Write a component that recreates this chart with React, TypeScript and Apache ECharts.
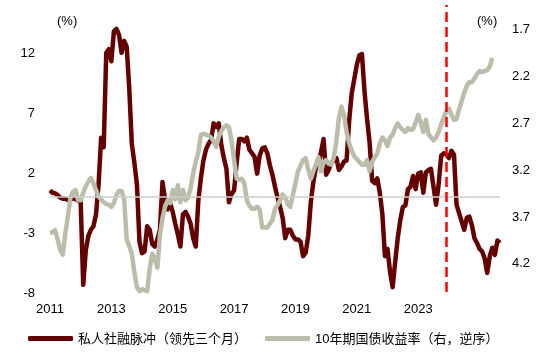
import React, { useEffect, useRef } from "react";
import * as echarts from "echarts";

// Monthly categories Jan 2011 .. Sep 2025
const months: string[] = [];
for (let y = 2011; y <= 2025; y++) {
  for (let m = 1; m <= 12; m++) {
    if (y === 2025 && m > 9) break;
    months.push(`${y}-${m < 10 ? "0" + m : m}`);
  }
}

const creditImpulseName = "私人社融脉冲（领先三个月）";
const bondYieldName = "10年期国债收益率（右，逆序）";

// Private credit impulse, leading 3 months (left axis, %)
const creditImpulse = [
  0.5, 0.3, 0.25, 0.1, -0.1, -0.2, -0.2, -0.3, -0.3, -0.15,
  -0.25, -0.35, -0.5, -7.4, -4.5, -3.3, -2.8, -2.5, -1.5, 1.0,
  4.9, 4.1, 12.0, 12.3, 11.3, 13.8, 14.0, 13.5, 12.0, 13.0,
  12.5, 9.0, 4.4, 2.8, 1.0, -3.8, -4.75, -4.6, -2.5, -2.8,
  -4.0, -4.2, -3.6, -2.8, 1.2, -0.3, -1.1, -0.6, -1.3, -2.3,
  -3.2, -4.2, -1.5, -1.3, -1.7, -2.3, -3.5, -4.2, -0.4, 1.5,
  3.0, 3.9, 4.4, 4.7, 6.1, 5.8, 6.1, 4.3, 3.2, 2.3,
  -0.5, 0.2, 0.5, 2.8, 4.8, 4.8, 4.6, 4.9, 3.9, 3.6,
  3.3, 1.9, 3.4, 4.0, 4.1, 3.6, 2.6, 1.8, 0.8, -0.1,
  -0.9, -1.8, -3.5, -2.8, -2.8, -3.3, -3.6, -3.6, -3.8, -5.0,
  -4.7, -3.3, -0.5, 1.2, 2.4, 2.75, 3.7, 4.8, 1.8, 2.2,
  2.8, 3.0, 3.2, 2.2, 2.5, 2.9, 3.0, 6.3, 8.6, 9.8,
  11.0, 11.8, 11.9, 8.8, 6.5, 4.5, 1.3, 1.1, 1.5, 0.3,
  -1.5, -5.0, -4.4, -6.3, -7.6, -5.5, -3.5, -2.0, -0.9, -0.75,
  0.6, 0.8, 1.7, 0.6, 1.9, 2.0, 0.3, 2.0, 2.2, 2.3,
  0.8, -0.7, 1.0, 3.4, 3.6, 3.5, 3.2, 3.8, 3.5, -0.7,
  -1.4, -2.1, -2.8, -1.8, -1.7, -2.4, -3.5, -3.9, -4.4, -4.6,
  -5.2, -6.4, -5.0, -4.3, -4.9, -3.7, -3.9,
];

// 10Y government bond yield (right axis, inverted, %)
const bondYield = [
  3.88, 3.87, 3.85, 3.95, 4.06, 4.11, 3.88, 3.7, 3.5, 3.44,
  3.42, 3.53, 3.53, 3.45, 3.38, 3.33, 3.29, 3.35, 3.42, 3.49,
  3.52, 3.55, 3.57, 3.58, 3.6, 3.56, 3.47, 3.43, 3.43, 3.52,
  3.95, 4.02, 4.1, 4.3, 4.46, 4.5, 4.48, 4.49, 4.5, 4.26,
  4.1, 4.15, 4.25, 3.9, 3.72, 3.6, 3.53, 3.56, 3.42, 3.52,
  3.37, 3.55, 3.42, 3.53, 3.5, 3.4, 3.24, 3.12, 3.02, 2.83,
  2.82, 2.83, 2.84, 2.86, 2.9, 2.96, 2.85, 2.79, 2.75, 2.73,
  2.75, 2.9, 3.1, 3.3, 3.31, 3.3, 3.35, 3.53, 3.59, 3.62,
  3.62, 3.6, 3.63, 3.82, 3.82, 3.82, 3.78, 3.74, 3.62, 3.58,
  3.53, 3.47, 3.5, 3.57, 3.6, 3.47, 3.35, 3.22, 3.16, 3.1,
  3.08, 3.2, 3.3, 3.22, 3.15, 3.07, 3.22, 3.13, 3.1, 3.14,
  3.15, 3.07, 2.9, 2.65, 2.53, 2.62, 2.8, 2.92, 3.0, 3.06,
  3.09, 3.12, 3.15, 3.15, 3.1, 3.22, 3.12, 3.07, 3.03, 2.92,
  2.86, 2.89, 2.95, 2.86, 2.83, 2.76, 2.71, 2.75, 2.78, 2.8,
  2.76, 2.78, 2.77, 2.7, 2.62, 2.7, 2.8, 2.67, 2.82, 2.86,
  2.89, 2.86, 2.8, 2.72, 2.64, 2.58, 2.55, 2.62, 2.67, 2.66,
  2.56, 2.47, 2.38, 2.31, 2.27, 2.27, 2.23, 2.18, 2.15, 2.16,
  2.15, 2.14, 2.1, 2.01,
];

const leftTicks = [-8, -3, 2, 7, 12];
const rightTicks = [1.7, 2.2, 2.7, 3.2, 3.7, 4.2];
const xLabelYears = ["2011", "2013", "2015", "2017", "2019", "2021", "2023"];
const markMonth = "2023-12";

const FONT = "'Liberation Sans', Arial, 'Noto Sans CJK SC', sans-serif";
const RED = "#650000";
const GRAY = "#bababa";
const GRAY_LINE = "#bcbcab";

export default function App() {
  const ref = useRef<HTMLDivElement>(null);
  useEffect(() => {
    if (!ref.current) return;
    const chart = echarts.init(ref.current, undefined, { renderer: "svg" });
    const option: any = {
      animation: false,
      grid: { left: 50, right: 50, top: 5, bottom: 65, containLabel: false },
      legend: {
        data: [creditImpulseName, bondYieldName],
        left: 28,
        top: 332,
        padding: 0,
        icon: "roundRect",
        itemWidth: 45,
        itemHeight: 5,
        itemGap: 18,
        textStyle: { fontSize: 13, color: "#000", fontFamily: FONT },
      },
      graphic: [
        { type: "text", left: 57, top: 14, style: { text: "(%)", fontSize: 13, fill: "#000", fontFamily: FONT } },
        { type: "text", left: 477, top: 14, style: { text: "(%)", fontSize: 13, fill: "#000", fontFamily: FONT } },
      ],
      xAxis: {
        type: "category",
        data: months,
        boundaryGap: false,
        axisLine: { show: false },
        axisTick: { show: false },
        splitLine: { show: false },
        axisLabel: {
          interval: (_i: number, v: string) => v.endsWith("-01") && xLabelYears.includes(v.slice(0, 4)),
          formatter: (v: string) => v.slice(0, 4),
          margin: 10,
          fontSize: 13,
          color: "#000",
          fontFamily: FONT,
        },
      },
      yAxis: [
        {
          type: "value",
          min: -8,
          max: 16,
          axisLine: { show: false },
          axisTick: { show: false },
          splitLine: { show: false },
          axisLabel: { customValues: leftTicks, margin: 15, fontSize: 13, color: "#000", fontFamily: FONT },
        },
        {
          type: "value",
          inverse: true,
          min: 1.444,
          max: 4.51,
          axisLine: { show: false },
          axisTick: { show: false },
          splitLine: { show: false },
          axisLabel: {
            customValues: rightTicks,
            formatter: (v: number) => v.toFixed(1),
            margin: 12,
            fontSize: 13,
            color: "#000",
            fontFamily: FONT,
          },
        },
      ],
      series: [
        {
          type: "line",
          name: "zero",
          data: [],
          z: 1,
          silent: true,
          markLine: {
            silent: true,
            symbol: "none",
            label: { show: false },
            lineStyle: { color: "#cccccc", width: 1.5, type: "solid" },
            data: [{ yAxis: 0 }],
          },
        },
        {
          type: "line",
          name: creditImpulseName,
          data: creditImpulse,
          yAxisIndex: 0,
          showSymbol: false,
          symbol: "none",
          z: 3,
          lineStyle: { color: RED, width: 4.5, join: "round" },
          itemStyle: { color: RED },
        },
        {
          type: "line",
          name: bondYieldName,
          data: bondYield,
          yAxisIndex: 1,
          showSymbol: false,
          symbol: "none",
          z: 4,
          lineStyle: { color: GRAY_LINE, width: 4.5, join: "round" },
          itemStyle: { color: GRAY_LINE },
        },
        {
          type: "line",
          name: "marker",
          data: [],
          z: 10,
          silent: true,
          markLine: {
            silent: true,
            symbol: "none",
            label: { show: false },
            lineStyle: { color: "#ff0000", width: 2.5, type: [10, 5] },
            data: [{ xAxis: markMonth }],
          },
        },
      ],
    };
    chart.setOption(option);
    return () => chart.dispose();
  }, []);
  return <div ref={ref} style={{ position: "fixed", left: 0, top: 0, width: 550, height: 357 }} />;
}
